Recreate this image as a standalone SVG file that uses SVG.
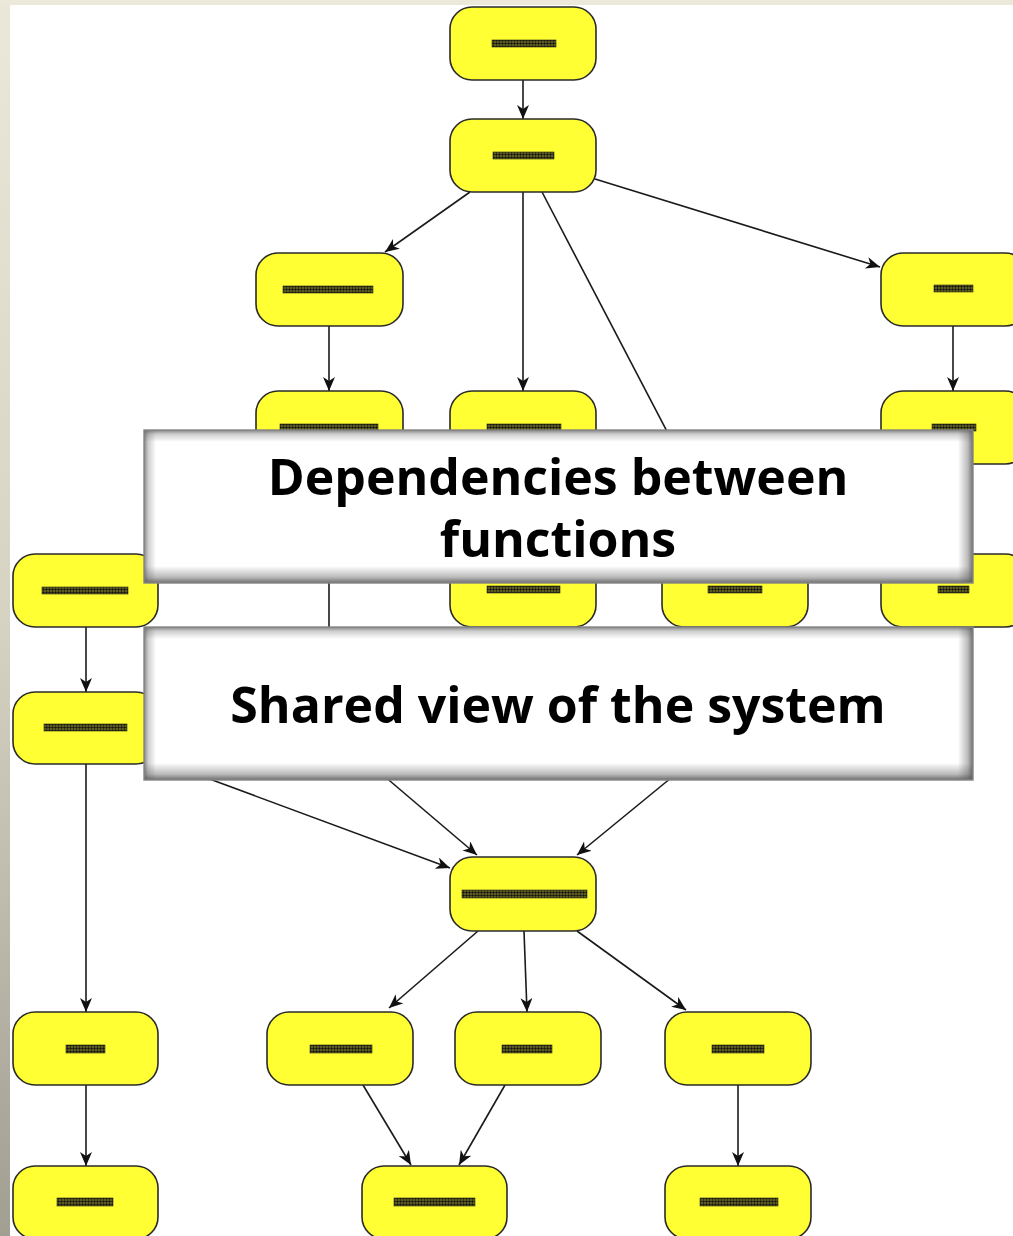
<svg xmlns="http://www.w3.org/2000/svg" width="1013" height="1236" viewBox="0 0 1013 1236">
  <defs>
    <linearGradient id="frame" x1="0" y1="0" x2="0" y2="1">
      <stop offset="0" stop-color="#ece8d9"/>
      <stop offset="0.5" stop-color="#d7d3c3"/>
      <stop offset="1" stop-color="#a19e92"/>
    </linearGradient>
    <pattern id="greek" width="3" height="3" patternUnits="userSpaceOnUse">
      <rect width="3" height="3" fill="#7c7c22"/>
      <circle cx="1.5" cy="1.5" r="1.3" fill="#151515"/>
    </pattern>
    <marker id="arrow" markerUnits="userSpaceOnUse" markerWidth="16" markerHeight="14" refX="14" refY="6" orient="auto">
      <path d="M0,0 L14,6 L0,12 L4,6 Z" fill="#111"/>
    </marker>
    <!-- bevel shading that fades inward from each panel edge -->
    <linearGradient id="shadeDown" x1="0" y1="0" x2="0" y2="1">
      <stop offset="0" stop-color="#5a5a5a" stop-opacity="0.75"/>
      <stop offset="0.35" stop-color="#5a5a5a" stop-opacity="0.3"/>
      <stop offset="1" stop-color="#5a5a5a" stop-opacity="0"/>
    </linearGradient>
    <linearGradient id="shadeUp" x1="0" y1="1" x2="0" y2="0">
      <stop offset="0" stop-color="#555" stop-opacity="0.85"/>
      <stop offset="0.35" stop-color="#555" stop-opacity="0.4"/>
      <stop offset="1" stop-color="#555" stop-opacity="0"/>
    </linearGradient>
    <linearGradient id="shadeRight" x1="0" y1="0" x2="1" y2="0">
      <stop offset="0" stop-color="#5a5a5a" stop-opacity="0.75"/>
      <stop offset="0.35" stop-color="#5a5a5a" stop-opacity="0.3"/>
      <stop offset="1" stop-color="#5a5a5a" stop-opacity="0"/>
    </linearGradient>
    <linearGradient id="shadeLeft" x1="1" y1="0" x2="0" y2="0">
      <stop offset="0" stop-color="#555" stop-opacity="0.85"/>
      <stop offset="0.35" stop-color="#555" stop-opacity="0.4"/>
      <stop offset="1" stop-color="#555" stop-opacity="0"/>
    </linearGradient>
  </defs>
  <style>
    .node rect.box { fill: #ffff33; stroke: #2a2a2a; stroke-width: 1.6; }
    .node rect.lbl { fill: url(#greek); stroke: #2a2a1a; stroke-width: 0.6; }
    .edges line { stroke: #1a1a1a; stroke-width: 1.6; marker-end: url(#arrow); }
    .caption rect.panel { fill: #ffffff; }
    .caption rect.edge { fill: none; stroke: #858585; stroke-width: 1.4; }
    .caption text { font-family: "Open Sans", "DejaVu Sans", sans-serif; font-weight: bold; font-size: 50px; fill: #000; text-anchor: middle; }
  </style>

  <!-- page frame -->
  <rect x="0" y="0" width="1013" height="1236" fill="url(#frame)"/>
  <rect x="0" y="0" width="1013" height="5" fill="#ece8da"/>
  <rect x="10" y="5" width="1003" height="1231" fill="#ffffff"/>

  <!-- connectors -->
  <g id="edges" class="edges">
    <line x1="523" y1="80" x2="523" y2="119"/>
    <line x1="470" y1="192" x2="385" y2="252"/>
    <line x1="523" y1="192" x2="523" y2="391"/>
    <line x1="542" y1="192" x2="731" y2="554"/>
    <line x1="595" y1="179" x2="880" y2="267"/>
    <line x1="329" y1="326" x2="329" y2="391"/>
    <line x1="953" y1="326" x2="953" y2="391"/>
    <line x1="329" y1="464" x2="329" y2="692"/>
    <line x1="523" y1="464" x2="523" y2="554"/>
    <line x1="953" y1="464" x2="953" y2="554"/>
    <line x1="86" y1="627" x2="86" y2="692"/>
    <line x1="86" y1="764" x2="86" y2="1012"/>
    <line x1="150" y1="757" x2="450" y2="868"/>
    <line x1="370" y1="764" x2="477" y2="855"/>
    <line x1="688" y1="764" x2="577" y2="855"/>
    <line x1="478" y1="931" x2="389" y2="1008"/>
    <line x1="524" y1="931" x2="527" y2="1012"/>
    <line x1="577" y1="931" x2="686" y2="1010"/>
    <line x1="363" y1="1085" x2="411" y2="1165"/>
    <line x1="505" y1="1085" x2="459" y2="1165"/>
    <line x1="738" y1="1085" x2="738" y2="1166"/>
    <line x1="86" y1="1085" x2="86" y2="1166"/>
  </g>

  <!-- function nodes -->
  <g id="n1" class="node"><rect class="box" x="450" y="7" width="146" height="73" rx="22"/><rect class="lbl" x="492" y="40" width="64" height="7"/></g>
  <g id="n2" class="node"><rect class="box" x="450" y="119" width="146" height="73" rx="22"/><rect class="lbl" x="493" y="152" width="61" height="7"/></g>
  <g id="n3a" class="node"><rect class="box" x="256" y="253" width="147" height="73" rx="22"/><rect class="lbl" x="283" y="286" width="90" height="7"/></g>
  <g id="n3b" class="node"><rect class="box" x="881" y="253" width="146" height="73" rx="22"/><rect class="lbl" x="934" y="285" width="39" height="7"/></g>
  <g id="n4a" class="node"><rect class="box" x="256" y="391" width="147" height="73" rx="22"/><rect class="lbl" x="280" y="424" width="98" height="7"/></g>
  <g id="n4b" class="node"><rect class="box" x="450" y="391" width="146" height="73" rx="22"/><rect class="lbl" x="487" y="424" width="74" height="7"/></g>
  <g id="n4c" class="node"><rect class="box" x="881" y="391" width="146" height="73" rx="22"/><rect class="lbl" x="932" y="424" width="44" height="7"/></g>
  <g id="n5a" class="node"><rect class="box" x="13" y="554" width="145" height="73" rx="22"/><rect class="lbl" x="42" y="587" width="86" height="7"/></g>
  <g id="n5b" class="node"><rect class="box" x="450" y="554" width="146" height="73" rx="22"/><rect class="lbl" x="487" y="586" width="73" height="7"/></g>
  <g id="n5c" class="node"><rect class="box" x="662" y="554" width="146" height="73" rx="22"/><rect class="lbl" x="708" y="586" width="54" height="7"/></g>
  <g id="n5d" class="node"><rect class="box" x="881" y="554" width="146" height="73" rx="22"/><rect class="lbl" x="938" y="586" width="31" height="7"/></g>
  <g id="n6a" class="node"><rect class="box" x="13" y="692" width="145" height="72" rx="22"/><rect class="lbl" x="44" y="724" width="83" height="7"/></g>
  <g id="hub" class="node"><rect class="box" x="450" y="857" width="146" height="74" rx="22"/><rect class="lbl" x="462" y="890" width="125" height="8"/></g>
  <g id="n7a" class="node"><rect class="box" x="13" y="1012" width="145" height="73" rx="22"/><rect class="lbl" x="66" y="1045" width="39" height="8"/></g>
  <g id="n7b" class="node"><rect class="box" x="267" y="1012" width="146" height="73" rx="22"/><rect class="lbl" x="310" y="1045" width="62" height="8"/></g>
  <g id="n7c" class="node"><rect class="box" x="455" y="1012" width="146" height="73" rx="22"/><rect class="lbl" x="502" y="1045" width="50" height="8"/></g>
  <g id="n7d" class="node"><rect class="box" x="665" y="1012" width="146" height="73" rx="22"/><rect class="lbl" x="712" y="1045" width="52" height="8"/></g>
  <g id="n8a" class="node"><rect class="box" x="13" y="1166" width="145" height="73" rx="22"/><rect class="lbl" x="57" y="1198" width="56" height="8"/></g>
  <g id="n8b" class="node"><rect class="box" x="362" y="1166" width="145" height="73" rx="22"/><rect class="lbl" x="394" y="1198" width="81" height="8"/></g>
  <g id="n8c" class="node"><rect class="box" x="665" y="1166" width="146" height="73" rx="22"/><rect class="lbl" x="700" y="1198" width="78" height="8"/></g>

  <!-- caption panels -->
  <g id="caption-dependencies" class="caption">
    <rect class="panel" x="144" y="430" width="829" height="153"/>
    <rect x="144" y="430" width="829" height="12" fill="url(#shadeDown)"/>
    <rect x="144" y="566" width="829" height="17" fill="url(#shadeUp)"/>
    <rect x="144" y="430" width="12" height="153" fill="url(#shadeRight)"/>
    <rect x="958" y="430" width="15" height="153" fill="url(#shadeLeft)"/>
    <rect class="edge" x="144" y="430" width="829" height="153"/>
    <text x="558" y="495">Dependencies between</text>
    <text x="558" y="557">functions</text>
  </g>
  <g id="caption-shared" class="caption">
    <rect class="panel" x="144" y="627" width="829" height="153"/>
    <rect x="144" y="627" width="829" height="12" fill="url(#shadeDown)"/>
    <rect x="144" y="763" width="829" height="17" fill="url(#shadeUp)"/>
    <rect x="144" y="627" width="12" height="153" fill="url(#shadeRight)"/>
    <rect x="958" y="627" width="15" height="153" fill="url(#shadeLeft)"/>
    <rect class="edge" x="144" y="627" width="829" height="153"/>
    <text x="558" y="723">Shared view of the system</text>
  </g>
</svg>
